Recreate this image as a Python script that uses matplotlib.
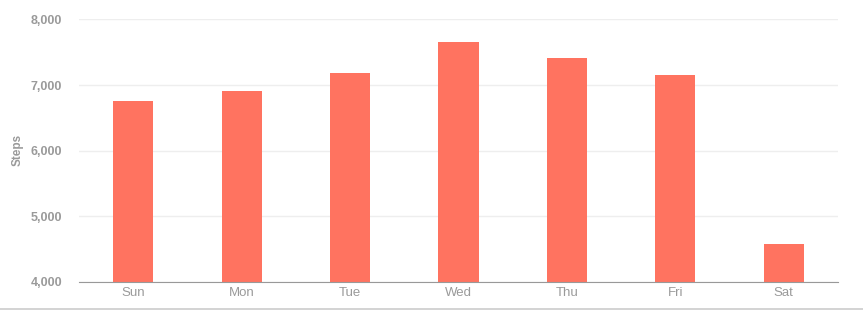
import matplotlib.pyplot as plt
from matplotlib.lines import Line2D

days = ['Sun', 'Mon', 'Tue', 'Wed', 'Thu', 'Fri', 'Sat']
steps = [6760, 6910, 7185, 7660, 7415, 7155, 4575]
y_ticks = [4000, 5000, 6000, 7000, 8000]

plt.rcParams['font.family'] = ['Liberation Sans', 'DejaVu Sans']

fig = plt.figure(figsize=(8.63, 3.11), dpi=100)
ax = fig.add_axes([0.0915, 0.0942, 0.8795, 0.8431])

x = range(len(days))
ax.bar(x, steps, width=0.37, color='#FF7360', zorder=3)

ax.set_ylim(4000, 8000)
ax.set_xlim(-0.5, len(days) - 0.5)
ax.set_yticks(y_ticks)
ax.set_yticklabels([f'{v:,}' for v in y_ticks], fontweight='bold', fontsize=9, color='#9a9a9a')
ax.set_xticks(list(x))
ax.set_xticklabels(days, fontsize=9.5, color='#9a9a9a')
ax.tick_params(axis='x', length=0, pad=4)
ax.tick_params(axis='y', length=0, pad=12)

ax.grid(axis='y', color='#eeeeee', linewidth=1, zorder=0)
for s in ['top', 'right', 'left']:
    ax.spines[s].set_visible(False)
ax.spines['bottom'].set_color('#999999')
ax.spines['bottom'].set_zorder(4)

fig.text(18 / 863, 1 - 150 / 311, 'Steps', rotation=90, ha='center', va='center',
         fontweight='bold', fontsize=8.5, color='#9a9a9a')

# light border line at bottom of the frame
fig.add_artist(Line2D([0, 1], [0.005, 0.005], color='#cccccc', linewidth=1.2))

fig.savefig('out.png', dpi=100)
